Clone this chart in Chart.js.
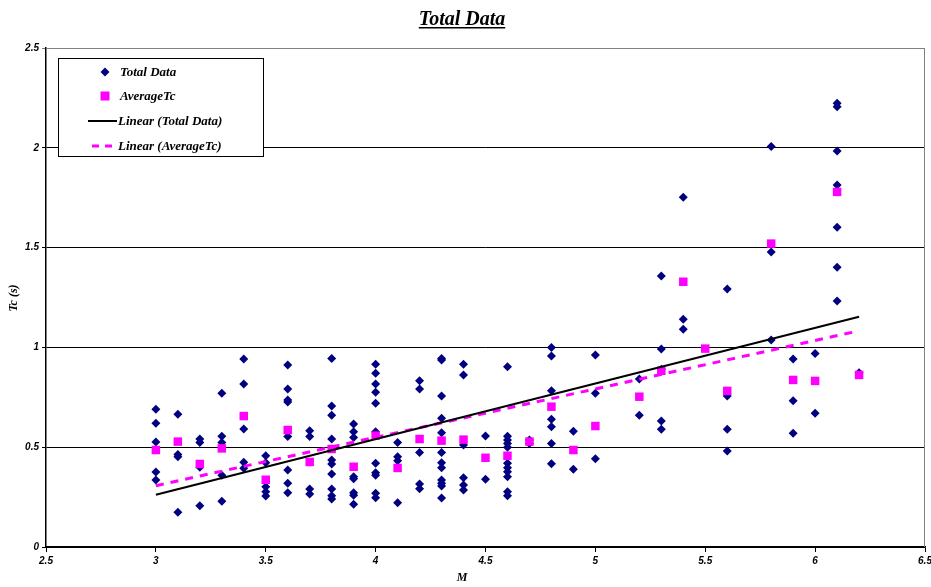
<!DOCTYPE html>
<html>
<head>
<meta charset="utf-8">
<script src="https://cdn.jsdelivr.net/npm/chart.js@4/dist/chart.umd.min.js"></script>
<style>
  html, body { margin: 0; padding: 0; background: #fff; }
  #wrap { width: 931px; height: 587px; position: relative; }
</style>
</head>
<body>
<div id="wrap"><canvas id="tcChart"></canvas></div>
<script>
// M 값 (측정 그룹)
const totalM = [3.0, 3.1, 3.2, 3.3, 3.4, 3.5, 3.6, 3.7, 3.8, 3.9, 4.0, 4.1, 4.2, 4.3, 4.4, 4.5, 4.6, 4.7, 4.8, 4.9, 5.0, 5.2, 5.3, 5.4, 5.6, 5.8, 5.9, 6.0, 6.1, 6.2];
// 각 M 에 대한 Tc 값들
const totalTc = [
    [0.69, 0.62, 0.526, 0.376, 0.336],
    [0.665, 0.464, 0.452, 0.174],
    [0.541, 0.524, 0.40, 0.207],
    [0.77, 0.555, 0.524, 0.36, 0.229],
    [0.942, 0.817, 0.591, 0.424, 0.394],
    [0.457, 0.422, 0.302, 0.277, 0.256],
    [0.912, 0.792, 0.736, 0.727, 0.553, 0.386, 0.319, 0.272],
    [0.583, 0.553, 0.291, 0.266],
    [0.945, 0.706, 0.66, 0.541, 0.436, 0.416, 0.366, 0.291, 0.257, 0.24],
    [0.616, 0.578, 0.548, 0.352, 0.342, 0.272, 0.259, 0.214],
    [0.915, 0.87, 0.817, 0.775, 0.72, 0.578, 0.419, 0.372, 0.36, 0.269, 0.247],
    [0.524, 0.452, 0.432, 0.222],
    [0.833, 0.792, 0.473, 0.316, 0.292],
    [0.945, 0.937, 0.757, 0.645, 0.573, 0.473, 0.422, 0.397, 0.336, 0.319, 0.306, 0.246],
    [0.915, 0.862, 0.511, 0.347, 0.311, 0.286],
    [0.556, 0.339],
    [0.903, 0.555, 0.536, 0.519, 0.50, 0.42, 0.397, 0.377, 0.352, 0.277, 0.257],
    [0.536, 0.519],
    [1.0, 0.957, 0.783, 0.64, 0.603, 0.519, 0.417],
    [0.58, 0.389],
    [0.962, 0.77, 0.442],
    [0.842, 0.66],
    [1.358, 0.992, 0.89, 0.631, 0.59],
    [1.752, 1.141, 1.091],
    [1.293, 0.757, 0.59, 0.481],
    [2.006, 1.478, 1.037],
    [0.942, 0.733, 0.57],
    [0.97, 0.67],
    [2.223, 2.206, 1.984, 1.814, 1.602, 1.401, 1.232],
    [0.873]
];

// 평균 Tc
const avgM  = [3.0, 3.1, 3.2, 3.3, 3.4, 3.5, 3.6, 3.7, 3.8, 3.9, 4.0, 4.1, 4.2, 4.3, 4.4, 4.5, 4.6, 4.7, 4.8, 4.9, 5.0, 5.2, 5.3, 5.4, 5.5, 5.6, 5.8, 5.9, 6.0, 6.1, 6.2];
const avgTc = [0.486, 0.528, 0.416, 0.494, 0.656, 0.337, 0.586, 0.426, 0.491, 0.402, 0.558, 0.396, 0.541, 0.533, 0.538, 0.447, 0.457, 0.528, 0.703, 0.486, 0.606, 0.753, 0.883, 1.329, 0.994, 0.782, 1.52, 0.837, 0.832, 1.779, 0.862];

// 추세선 끝점
const trendTotalM  = [3.0, 6.2];
const trendTotalTc = [0.262, 1.154];
const trendAvgM    = [3.0, 6.2];
const trendAvgTc   = [0.307, 1.083];

// 축 눈금
const xTicks = [2.5, 3, 3.5, 4, 4.5, 5, 5.5, 6, 6.5];
const yTicks = [0, 0.5, 1, 1.5, 2, 2.5];

const totalPoints = [];
totalM.forEach((m, i) => {
    totalTc[i].forEach(tc => totalPoints.push({ x: m, y: tc }));
});
const avgPoints = avgM.map((m, i) => ({ x: m, y: avgTc[i] }));
const toXY = (xs, ys) => xs.map((x, i) => ({ x: x, y: ys[i] }));

const NAVY = '#000080';
const PINK = '#FF00FF';
const tickFont = { family: "'Liberation Sans Narrow', 'Arial Narrow', 'Liberation Sans', sans-serif", size: 10, style: 'italic', weight: 'bold' };

// 제목, 축 제목, 범례, 테두리
const decorPlugin = {
    id: 'decor',
    afterDraw(chart) {
        const { ctx, chartArea: a } = chart;
        ctx.save();

        // 오른쪽/위쪽 테두리
        ctx.strokeStyle = '#808080';
        ctx.lineWidth = 1;
        ctx.beginPath();
        ctx.moveTo(a.left, a.top + 0.5);
        ctx.lineTo(a.right - 0.5, a.top + 0.5);
        ctx.lineTo(a.right - 0.5, a.bottom);
        ctx.stroke();

        // 제목
        ctx.fillStyle = '#000';
        ctx.font = "italic bold 20px 'Liberation Serif', serif";
        ctx.textAlign = 'center';
        ctx.textBaseline = 'alphabetic';
        const title = 'Total Data';
        const cx = 462;
        ctx.fillText(title, cx, 25);
        const tw = ctx.measureText(title).width;
        ctx.fillRect(cx - tw / 2, 27, tw, 1.5);

        // 축 제목
        ctx.font = "italic bold 12px 'Liberation Serif', serif";
        ctx.textBaseline = 'middle';
        ctx.fillText('M', 462, 578);
        ctx.save();
        ctx.translate(14, 298);
        ctx.rotate(-Math.PI / 2);
        ctx.fillText('Tc (s)', 0, 0);
        ctx.restore();

        // 범례
        const lx = 58, ly = 58, lw = 205, lh = 98;
        ctx.fillStyle = '#fff';
        ctx.fillRect(lx, ly, lw, lh);
        ctx.strokeStyle = '#000';
        ctx.lineWidth = 1;
        ctx.strokeRect(lx + 0.5, ly + 0.5, lw, lh);

        const rows = [72, 96, 121, 146];
        const mx = 105;
        // 다이아몬드
        ctx.fillStyle = NAVY;
        ctx.beginPath();
        ctx.moveTo(mx, rows[0] - 4.5);
        ctx.lineTo(mx + 4.5, rows[0]);
        ctx.lineTo(mx, rows[0] + 4.5);
        ctx.lineTo(mx - 4.5, rows[0]);
        ctx.closePath();
        ctx.fill();
        // 사각형
        ctx.fillStyle = PINK;
        ctx.fillRect(mx - 4.5, rows[1] - 4.5, 9, 9);
        // 실선
        ctx.strokeStyle = '#000';
        ctx.lineWidth = 2;
        ctx.beginPath();
        ctx.moveTo(88, rows[2]);
        ctx.lineTo(117, rows[2]);
        ctx.stroke();
        // 점선
        ctx.strokeStyle = PINK;
        ctx.lineWidth = 3;
        ctx.setLineDash([7, 6]);
        ctx.beginPath();
        ctx.moveTo(92, rows[3]);
        ctx.lineTo(118, rows[3]);
        ctx.stroke();
        ctx.setLineDash([]);

        ctx.fillStyle = '#000';
        ctx.font = "italic bold 13px 'Liberation Serif', serif";
        ctx.textAlign = 'left';
        const labels = ['Total Data', 'AverageTc', 'Linear (Total Data)', 'Linear (AverageTc)'];
        labels.forEach((t, i) => {
            ctx.fillText(t, i < 2 ? 120 : 118, rows[i] + 1);
        });

        ctx.restore();
    }
};

const ctx = document.getElementById('tcChart').getContext('2d');
new Chart(ctx, {
    type: 'scatter',
    data: {
        datasets: [
            {
                label: 'Linear (Total Data)',
                type: 'line',
                data: toXY(trendTotalM, trendTotalTc),
                borderColor: '#000',
                borderWidth: 2,
                pointRadius: 0,
                fill: false,
                order: 1
            },
            {
                label: 'Linear (AverageTc)',
                type: 'line',
                data: toXY(trendAvgM, trendAvgTc),
                borderColor: PINK,
                borderWidth: 3,
                borderDash: [8, 7],
                pointRadius: 0,
                fill: false,
                order: 1
            },
            {
                label: 'AverageTc',
                data: avgPoints,
                pointStyle: 'rect',
                pointRadius: 6,
                backgroundColor: PINK,
                borderColor: PINK,
                borderWidth: 0,
                order: 2
            },
            {
                label: 'Total Data',
                data: totalPoints,
                pointStyle: 'rectRot',
                pointRadius: 4.5,
                backgroundColor: NAVY,
                borderColor: NAVY,
                borderWidth: 0,
                order: 3
            }
        ]
    },
    options: {
        responsive: true,
        maintainAspectRatio: false,
        animation: false,
        layout: { padding: { top: 48, right: -3, left: 0, bottom: 0 } },
        plugins: {
            legend: { display: false },
            tooltip: { enabled: false }
        },
        scales: {
            x: {
                type: 'linear',
                min: 2.5,
                max: 6.5,
                afterBuildTicks: (scale) => { scale.ticks = xTicks.map(v => ({ value: v })); },
                afterFit: (scale) => {
                    scale.height = 40;
                    scale.paddingLeft = 0;
                    scale.paddingRight = 0;
                },
                grid: {
                    drawOnChartArea: false,
                    drawTicks: true,
                    tickLength: 5,
                    color: '#000'
                },
                border: { color: '#000', width: 1.5 },
                ticks: {
                    color: '#000',
                    font: tickFont,
                    padding: 3,
                    maxRotation: 0,
                    callback: (v) => String(v)
                }
            },
            y: {
                type: 'linear',
                min: 0,
                max: 2.5,
                afterBuildTicks: (scale) => { scale.ticks = yTicks.map(v => ({ value: v })); },
                afterFit: (scale) => { scale.width = 46; },
                grid: {
                    color: (c) => (c.tick && c.tick.value === 2.5) ? '#808080' : '#000',
                    lineWidth: 1,
                    drawTicks: true,
                    tickLength: 4
                },
                border: { color: '#000', width: 1.5 },
                ticks: {
                    color: '#000',
                    font: tickFont,
                    padding: 3,
                    callback: (v) => String(v)
                }
            }
        }
    },
    plugins: [decorPlugin]
});
</script>
</body>
</html>
